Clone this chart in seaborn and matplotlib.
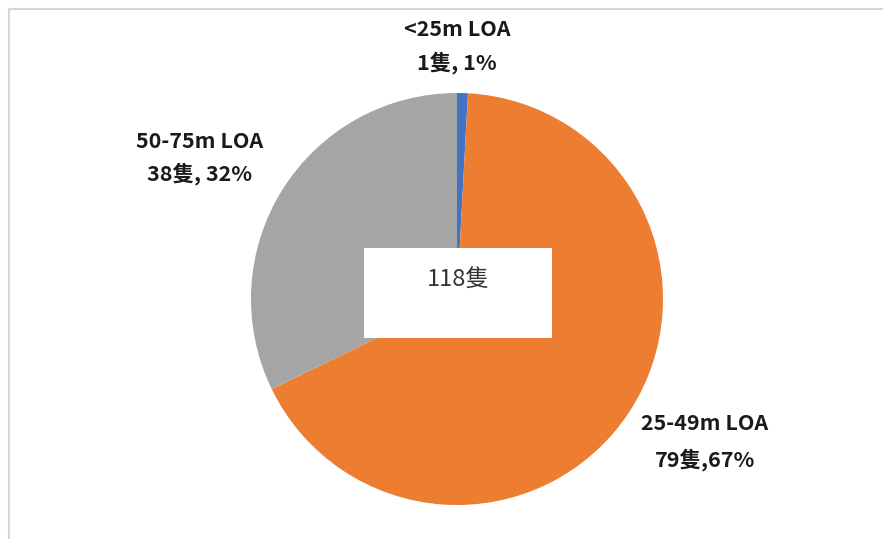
import matplotlib
matplotlib.use("Agg")
import matplotlib.pyplot as plt
import seaborn as sns
from matplotlib.lines import Line2D
from matplotlib.patches import Rectangle

sns.set_theme(style="white")
plt.rcParams['font.family'] = ['Noto Sans CJK TC', 'DejaVu Sans']

# data
categories = ["<25m LOA", "25-49m LOA", "50-75m LOA"]
counts = [1, 79, 38]
pct_labels = ["1隻, 1%", "79隻,67%", "38隻, 32%"]
colors = ["#4472C4", "#ED7D31", "#A5A5A5"]
total_label = f"{sum(counts)}隻"

W, H = 883, 539
fig = plt.figure(figsize=(W / 100, H / 100), dpi=100)

# pie centred at (457, 299) px, radius 206 px
cx, cy, r = 457, 299, 206
ax = fig.add_axes([(cx - r) / W, (H - cy - r) / H, 2 * r / W, 2 * r / H])
ax.pie(counts, colors=colors, startangle=90, counterclock=False,
       wedgeprops=dict(linewidth=0))
ax.set_xlim(-1, 1)
ax.set_ylim(-1, 1)
ax.set_aspect("equal")
ax.axis("off")

# frame lines (top and left only)
fig.add_artist(Line2D([9 / W, 1], [1 - 9 / H, 1 - 9 / H], color="#D6D6D6", lw=1.5,
                      transform=fig.transFigure))
fig.add_artist(Line2D([9 / W, 9 / W], [0, 1 - 9 / H], color="#D6D6D6", lw=1.5,
                      transform=fig.transFigure))

# centre box
fig.add_artist(Rectangle((364 / W, 1 - 338 / H), (552 - 364) / W, 90 / H,
                         facecolor="white", edgecolor="none", transform=fig.transFigure))
fig.text(458 / W, 1 - 280 / H, total_label, ha="center", va="center",
         fontsize=17, color="#333333")

# slice labels
label_pos = [(457, 30, 63), (705, 424, 460), (200, 141, 174)]
for cat, pl, (x, y1, y2) in zip(categories, pct_labels, label_pos):
    fig.text(x / W, 1 - y1 / H, cat, ha="center", va="center",
             fontsize=15.5, fontweight="bold", color="#1a1a1a")
    fig.text(x / W, 1 - y2 / H, pl, ha="center", va="center",
             fontsize=15.5, fontweight="bold", color="#1a1a1a")

fig.savefig("out.png", dpi=100)
